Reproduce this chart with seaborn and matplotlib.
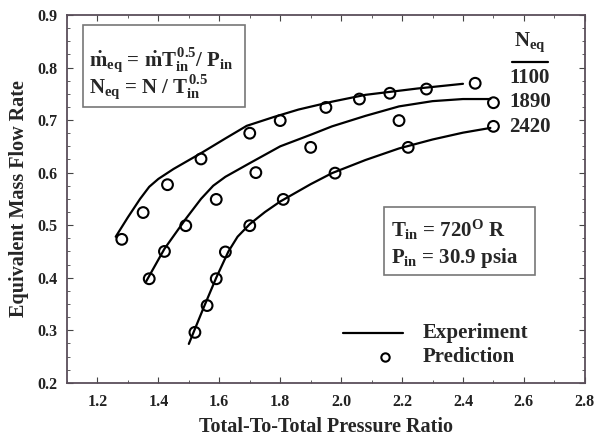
import numpy as np
import pandas as pd
import matplotlib
matplotlib.use("Agg")
import matplotlib.pyplot as plt
import seaborn as sns
from matplotlib.ticker import MultipleLocator
from matplotlib.patches import Rectangle

# speed lines (N_eq)
speeds = ["1100", "1890", "2420"]

# experiment curves
exp_x_1100 = [1.26, 1.30, 1.34, 1.37, 1.40, 1.45, 1.54, 1.62, 1.69, 1.78, 1.86, 1.97, 2.08, 2.25, 2.40]
exp_y_1100 = [0.478, 0.515, 0.550, 0.573, 0.588, 0.607, 0.637, 0.665, 0.689, 0.706, 0.720, 0.735, 0.748, 0.760, 0.769]
exp_x_1890 = [1.36, 1.42, 1.49, 1.54, 1.58, 1.62, 1.70, 1.80, 1.90, 1.97, 2.08, 2.19, 2.30, 2.40, 2.49]
exp_y_1890 = [0.393, 0.455, 0.512, 0.550, 0.575, 0.592, 0.618, 0.650, 0.672, 0.688, 0.708, 0.726, 0.736, 0.740, 0.740]
exp_x_2420 = [1.50, 1.55, 1.59, 1.63, 1.66, 1.70, 1.75, 1.80, 1.90, 1.97, 2.08, 2.19, 2.30, 2.40, 2.49]
exp_y_2420 = [0.274, 0.345, 0.400, 0.450, 0.478, 0.502, 0.525, 0.545, 0.578, 0.599, 0.624, 0.646, 0.663, 0.676, 0.685]

# predicted points
pred_x_1100 = [1.28, 1.35, 1.43, 1.54, 1.70, 1.80, 1.95, 2.06, 2.16, 2.28, 2.44]
pred_y_1100 = [0.473, 0.524, 0.577, 0.626, 0.675, 0.699, 0.724, 0.740, 0.751, 0.759, 0.770]
pred_x_1890 = [1.37, 1.42, 1.49, 1.59, 1.72, 1.90, 2.19, 2.50]
pred_y_1890 = [0.398, 0.450, 0.499, 0.549, 0.600, 0.648, 0.699, 0.733]
pred_x_2420 = [1.52, 1.56, 1.59, 1.62, 1.70, 1.81, 1.98, 2.22, 2.50]
pred_y_2420 = [0.296, 0.347, 0.398, 0.449, 0.499, 0.549, 0.599, 0.648, 0.688]

x_ticks = [1.2, 1.4, 1.6, 1.8, 2.0, 2.2, 2.4, 2.6, 2.8]
y_ticks = [0.2, 0.3, 0.4, 0.5, 0.6, 0.7, 0.8, 0.9]

exp = pd.concat([
    pd.DataFrame({"pr": exp_x_1100, "mf": exp_y_1100, "N": "1100"}),
    pd.DataFrame({"pr": exp_x_1890, "mf": exp_y_1890, "N": "1890"}),
    pd.DataFrame({"pr": exp_x_2420, "mf": exp_y_2420, "N": "2420"}),
], ignore_index=True)
pred = pd.concat([
    pd.DataFrame({"pr": pred_x_1100, "mf": pred_y_1100, "N": "1100"}),
    pd.DataFrame({"pr": pred_x_1890, "mf": pred_y_1890, "N": "1890"}),
    pd.DataFrame({"pr": pred_x_2420, "mf": pred_y_2420, "N": "2420"}),
], ignore_index=True)

sns.set_style("ticks")
plt.rcParams["font.family"] = ["Liberation Serif", "DejaVu Serif"]
plt.rcParams["font.weight"] = "bold"
plt.rcParams["mathtext.fontset"] = "custom"
plt.rcParams["mathtext.rm"] = "Liberation Serif:bold"
plt.rcParams["mathtext.it"] = "Liberation Serif:bold"
plt.rcParams["mathtext.bf"] = "Liberation Serif:bold"

fig = plt.figure(figsize=(5.98, 4.40), dpi=100)
ax = fig.add_axes([0.112, 0.130, 0.866, 0.836])

pal = {s: "black" for s in speeds}
sns.lineplot(data=exp, x="pr", y="mf", hue="N", units="N", estimator=None, sort=False,
             palette=pal, linewidth=1.6, legend=False, ax=ax)
sns.scatterplot(data=pred, x="pr", y="mf", hue="N", palette=pal, marker="o",
                s=60, linewidth=1.5, legend=False, ax=ax, zorder=3)
for coll in ax.collections:
    coll.set_facecolor("none")
    coll.set_edgecolor("black")

ax.set_xlim(1.1, 2.8)
ax.set_ylim(0.2, 0.9)
ax.set_xticks(x_ticks)
ax.set_yticks(y_ticks)
ax.set_xticklabels([f"{v:.1f}" for v in x_ticks])
ax.set_yticklabels([f"{v:.1f}" for v in y_ticks])
ax.xaxis.set_minor_locator(MultipleLocator(0.1))
ax.yaxis.set_minor_locator(MultipleLocator(0.025))
ax.tick_params(which="both", direction="in", top=True, right=True, colors="#444444",
               labelcolor="#222222", labelsize=11.5)
ax.tick_params(axis="x", which="major", pad=8)
ax.tick_params(axis="y", which="major", pad=7)
ax.tick_params(which="major", length=4)
ax.tick_params(which="minor", length=2)
for sp in ax.spines.values():
    sp.set_color("#5a4e5a")
    sp.set_linewidth(1.3)

ax.set_xlabel("Total-To-Total Pressure Ratio", fontsize=14.5, fontweight="bold", labelpad=5)
ax.set_ylabel("Equivalent Mass Flow Rate", fontsize=14.5, fontweight="bold", labelpad=6)

# definition box
ax.add_patch(Rectangle((1.151, 0.725), 0.532, 0.156, fill=False, ec="#777777", lw=1.2, zorder=4))
ax.text(1.172, 0.814, "$\\dot{m}_{eq}$ = $\\dot{m}T_{in}^{0.5}$/ $P_{in}$",
        fontsize=15, va="center", ha="left")
ax.text(1.172, 0.763, "$N_{eq}$ = N / $T_{in}^{0.5}$",
        fontsize=15, va="center", ha="left")

# inlet conditions box
ax.add_patch(Rectangle((2.140, 0.405), 0.497, 0.130, fill=False, ec="#777777", lw=1.2, zorder=4))
ax.text(2.165, 0.491, "$T_{in}$ = 720$^{O}$ R", fontsize=15, va="center", ha="left")
ax.text(2.165, 0.438, "$P_{in}$ = 30.9 psia", fontsize=15, va="center", ha="left")

# speed labels
ax.text(2.62, 0.848, "$N_{eq}$", fontsize=15, ha="center", va="center")
ax.plot([2.56, 2.68], [0.811, 0.811], color="black", lw=1.6)
for s, yv in zip(speeds, [0.780, 0.734, 0.687]):
    ax.text(2.62, yv, s, fontsize=15, ha="center", va="center")

# legend
tr = ax.transAxes
ax.plot([0.533, 0.649], [0.136, 0.136], color="black", lw=1.6, transform=tr)
ax.plot([0.614], [0.071], ls="none", marker="o", mfc="none", mec="black", ms=6, mew=1.5,
        transform=tr)
ax.text(0.687, 0.136, "Experiment", fontsize=15, va="center", ha="left", transform=tr)
ax.text(0.687, 0.071, "Prediction", fontsize=15, va="center", ha="left", transform=tr)

fig.savefig("out.png", dpi=100)
